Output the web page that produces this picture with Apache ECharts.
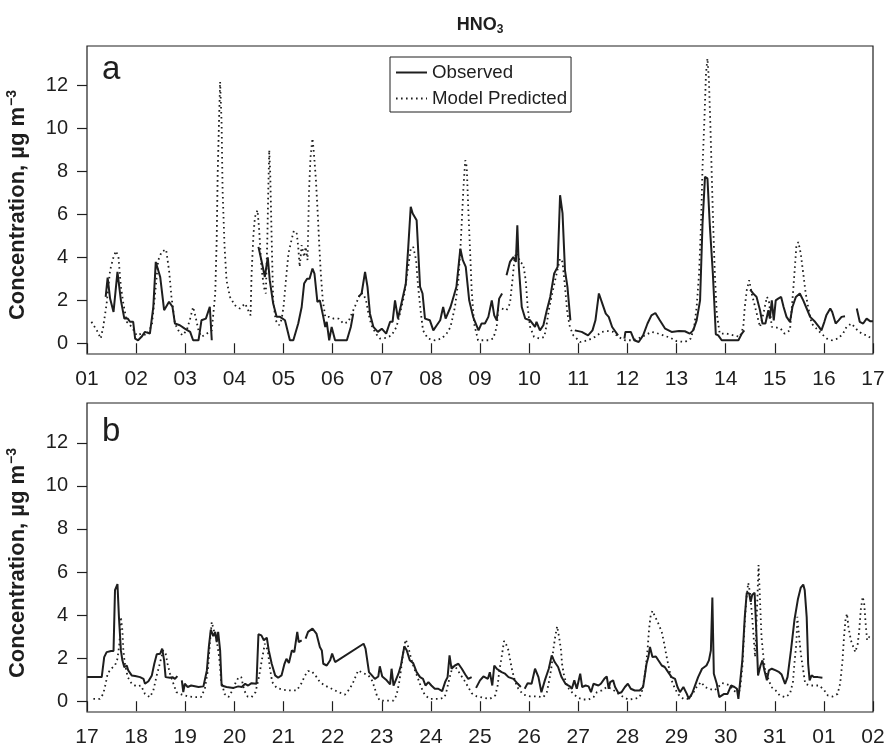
<!DOCTYPE html>
<html>
<head>
<meta charset="utf-8">
<script src="https://cdn.jsdelivr.net/npm/echarts@6/dist/echarts.min.js"></script>
<style>
  html, body { margin: 0; padding: 0; background: #fff; }
  #chart { width: 884px; height: 748px; }
</style>
</head>
<body>
<div id="chart"></div>
<script>
// Day-of-month tick labels for each panel (x values are days since the panel start)
const tickLabelsA = ['01','02','03','04','05','06','07','08','09','10','11','12','13','14','15','16','17'];
const tickLabelsB = ['17','18','19','20','21','22','23','24','25','26','27','28','29','30','31','01','02'];
const yTicks = [0, 2, 4, 6, 8, 10, 12];

// Panel a: observed HNO3 (µg m-3); [day, value], value null = missing data
const observedA = [
  [0.38,2.16],[0.42,3.06],[0.47,2.08],[0.54,1.46],[0.62,3.33],[0.69,2.0],[0.76,1.15],[0.83,1.15],[0.875,1.0],[0.94,1.0],
  [0.98,0.22],[1.04,0.14],[1.11,0.3],[1.18,0.53],[1.28,0.45],[1.35,1.7],[1.40,3.79],[1.49,3.09],[1.57,1.54],[1.67,1.93],
  [1.74,1.7],[1.79,0.92],[1.89,0.84],[1.99,0.68],[2.10,0.53],[2.16,0.14],[2.27,0.14],[2.33,1.07],[2.42,1.15],[2.50,1.7],
  [2.54,0.14],[3.0,null],
  [3.49,4.49],[3.55,3.87],[3.62,3.09],[3.68,4.0],[3.72,2.94],[3.79,1.85],[3.86,1.23],[3.93,1.23],[4.03,1.07],[4.13,0.14],
  [4.20,0.14],[4.30,0.92],[4.37,1.69],[4.42,2.78],[4.48,3.01],[4.53,3.01],[4.59,3.48],[4.63,3.25],[4.69,1.93],[4.74,2.0],
  [4.81,1.23],[4.85,0.76],[4.88,1.0],[4.93,0.14],[4.98,0.76],[5.02,0.76],[5.05,0.14],[5.29,0.14],[5.37,0.76],[5.42,1.38],
  [5.47,null],
  [5.53,2.16],[5.59,2.32],[5.66,3.33],[5.71,2.63],[5.76,1.38],[5.83,0.76],[5.92,0.53],[6.00,0.68],[6.09,0.45],[6.17,1.0],
  [6.22,1.0],[6.27,2.0],[6.33,1.15],[6.40,1.85],[6.49,2.78],[6.54,4.49],[6.59,6.36],[6.63,6.05],[6.71,5.73],[6.78,2.63],
  [6.83,2.32],[6.88,1.15],[6.98,1.07],[7.05,0.6],[7.12,0.84],[7.19,1.07],[7.25,1.69],[7.30,1.15],[7.40,1.69],[7.46,2.16],
  [7.52,2.63],[7.60,4.41],[7.65,3.87],[7.71,3.56],[7.78,2.0],[7.86,1.23],[7.90,1.0],[7.97,0.6],[8.03,0.92],[8.10,0.92],
  [8.17,1.23],[8.24,2.0],[8.29,1.3],[8.34,1.07],[8.39,2.08],[8.45,2.32],[8.50,null],
  [8.54,3.17],[8.61,3.79],[8.68,4.02],[8.73,3.79],[8.76,5.5],[8.79,3.56],[8.85,1.69],[8.92,1.15],[9.02,1.07],[9.12,0.76],
  [9.15,1.0],[9.22,0.6],[9.29,0.84],[9.36,1.54],[9.43,2.16],[9.51,3.25],[9.58,3.56],[9.63,6.9],[9.68,6.05],[9.73,3.4],
  [9.78,2.63],[9.84,1.07],[9.88,null],
  [9.93,0.6],[10.07,0.53],[10.20,0.37],[10.29,0.6],[10.35,1.07],[10.42,2.32],[10.49,1.85],[10.56,1.38],[10.62,1.23],
  [10.69,0.76],[10.81,0.37],[10.88,null],
  [10.94,0.22],[10.96,0.53],[11.07,0.53],[11.14,0.14],[11.23,0.06],[11.32,0.37],[11.41,0.92],[11.49,1.3],[11.57,1.41],
  [11.66,1.07],[11.77,0.68],[11.90,0.53],[12.05,0.57],[12.17,0.56],[12.27,0.45],[12.34,0.6],[12.41,1.07],[12.48,2.0],
  [12.53,5.58],[12.58,7.75],[12.63,7.68],[12.68,5.42],[12.74,3.25],[12.77,1.85],[12.80,0.42],[12.85,0.37],[12.92,0.14],
  [13.26,0.14],[13.33,0.45],[13.38,0.6],[13.44,null],
  [13.50,2.5],[13.56,2.32],[13.63,2.16],[13.70,1.54],[13.75,0.92],[13.81,0.92],[13.87,1.54],[13.90,1.15],[13.94,2.0],
  [13.98,1.07],[14.02,2.0],[14.07,2.08],[14.13,2.16],[14.18,1.69],[14.24,1.23],[14.31,1.0],[14.36,1.69],[14.43,2.16],
  [14.51,2.32],[14.58,2.0],[14.65,1.62],[14.72,1.23],[14.82,1.0],[14.90,0.76],[14.95,0.6],[15.01,1.0],[15.05,1.3],
  [15.09,1.23],[15.13,1.62],[15.17,1.46],[15.24,0.92],[15.30,1.07],[15.36,1.23],[15.43,1.26],[15.55,null],
  [15.67,1.62],[15.73,1.0],[15.80,0.92],[15.87,1.15],[15.94,1.03],[16.0,1.03]
];

// Panel a: model predicted HNO3
const modelA = [
  [0.09,1.0],[0.20,0.6],[0.28,0.22],[0.33,0.76],[0.40,1.85],[0.47,3.4],[0.54,4.02],[0.59,4.3],[0.64,4.02],[0.69,2.63],
  [0.74,1.85],[0.81,1.0],[0.91,0.76],[1.01,0.37],[1.11,0.45],[1.21,0.37],[1.32,0.84],[1.38,2.16],[1.45,3.87],[1.52,4.26],
  [1.61,4.37],[1.67,3.4],[1.72,2.16],[1.79,0.92],[1.86,0.6],[1.94,0.37],[2.03,0.6],[2.10,1.15],[2.16,1.69],[2.21,1.23],
  [2.27,0.6],[2.33,0.3],[2.44,0.45],[2.54,0.6],[2.61,2.32],[2.64,4.8],[2.66,7.9],[2.69,10.55],[2.71,12.18],[2.74,10.24],
  [2.76,7.13],[2.80,4.49],[2.84,2.94],[2.91,2.16],[3.01,1.77],[3.11,1.62],[3.22,1.85],[3.28,1.54],[3.33,1.3],[3.35,3.25],
  [3.39,5.11],[3.42,5.89],[3.47,6.2],[3.50,5.42],[3.55,3.56],[3.60,2.63],[3.64,2.32],[3.67,4.8],[3.69,7.13],[3.71,9.0],
  [3.73,7.9],[3.76,4.8],[3.79,2.0],[3.84,1.07],[3.91,0.84],[3.96,1.1],[4.0,1.69],[4.05,2.94],[4.10,4.18],[4.17,4.88],
  [4.21,5.24],[4.27,5.11],[4.30,4.49],[4.33,3.56],[4.37,4.57],[4.42,4.02],[4.45,4.49],[4.49,3.87],[4.52,7.13],[4.55,8.69],
  [4.59,9.54],[4.62,8.84],[4.66,7.6],[4.70,5.89],[4.73,4.49],[4.76,3.25],[4.80,2.0],[4.85,1.23],[4.93,1.23],[5.02,1.15],
  [5.12,1.15],[5.22,0.92],[5.32,1.0],[5.39,1.38],[5.48,1.85],[5.56,2.32],[5.62,2.32],[5.68,2.0],[5.73,1.38],[5.79,0.84],
  [5.88,0.45],[5.96,0.22],[6.09,0.25],[6.20,0.37],[6.30,0.76],[6.37,1.38],[6.45,2.16],[6.52,3.25],[6.59,4.41],[6.64,4.49],
  [6.70,3.87],[6.74,2.63],[6.79,1.54],[6.84,0.6],[6.94,0.22],[7.08,0.14],[7.22,0.22],[7.32,0.45],[7.40,0.76],[7.49,1.69],
  [7.56,2.94],[7.61,4.8],[7.66,7.13],[7.70,8.53],[7.73,8.22],[7.76,6.36],[7.80,4.18],[7.83,2.47],[7.88,0.92],[7.96,0.14],
  [8.03,0.14],[8.17,0.14],[8.27,0.22],[8.34,0.76],[8.37,1.54],[8.44,1.62],[8.54,1.54],[8.61,1.85],[8.66,2.94],[8.70,3.87],
  [8.75,4.34],[8.81,3.79],[8.88,3.68],[8.93,2.94],[8.97,1.69],[9.02,0.76],[9.10,0.3],[9.22,0.22],[9.31,0.3],[9.36,0.92],
  [9.40,1.54],[9.47,2.32],[9.56,3.25],[9.63,3.95],[9.68,3.79],[9.73,2.63],[9.78,1.38],[9.83,0.76],[9.90,0.37],[10.04,0.06],
  [10.20,0.14],[10.34,0.3],[10.48,0.53],[10.61,0.57],[10.71,0.53],[10.81,0.3],[10.95,0.14],[11.09,0.14],[11.22,0.22],
  [11.36,0.37],[11.49,0.53],[11.59,0.48],[11.73,0.37],[11.87,0.26],[12.00,0.1],[12.17,0.06],[12.29,0.22],[12.36,0.76],
  [12.41,1.69],[12.46,3.25],[12.50,5.58],[12.53,8.22],[12.57,10.55],[12.60,12.57],[12.63,13.27],[12.66,12.26],[12.69,10.09],
  [12.72,7.6],[12.75,5.27],[12.78,3.25],[12.82,1.38],[12.88,0.45],[13.02,0.45],[13.16,0.37],[13.29,0.3],[13.36,0.76],
  [13.39,1.69],[13.43,2.47],[13.48,2.94],[13.53,2.32],[13.60,1.69],[13.70,0.76],[13.77,1.38],[13.84,2.16],[13.88,2.0],
  [13.94,0.76],[14.00,0.76],[14.12,0.68],[14.20,0.45],[14.31,0.6],[14.37,2.32],[14.41,3.56],[14.44,4.49],[14.48,4.72],
  [14.53,4.18],[14.58,3.25],[14.63,2.32],[14.68,1.69],[14.75,0.92],[14.85,0.68],[14.95,0.45],[15.06,0.22],[15.16,0.14],
  [15.29,0.22],[15.39,0.45],[15.46,0.76],[15.56,0.92],[15.67,0.64],[15.77,0.45],[15.87,0.37],[15.97,0.22]
];

// Panel b: observed HNO3
const observedB = [
  [0,1.12],[0.30,1.12],[0.35,2.05],[0.40,2.28],[0.49,2.33],[0.54,2.33],[0.57,5.16],[0.62,5.44],[0.65,3.92],[0.69,2.36],
  [0.72,1.90],[0.76,1.58],[0.81,1.66],[0.84,1.43],[0.91,1.2],[0.98,1.17],[1.08,1.12],[1.15,1.04],[1.18,0.81],[1.25,0.93],
  [1.32,1.2],[1.37,1.74],[1.42,2.18],[1.49,2.21],[1.53,2.44],[1.57,1.90],[1.60,1.12],[1.69,1.09],[1.74,1.12],[1.79,1.04],
  [1.84,1.17],[1.88,null],
  [1.93,0.97],[1.96,0.42],[1.99,0.81],[2.05,0.66],[2.12,0.73],[2.27,0.66],[2.37,0.69],[2.44,1.43],[2.48,2.52],[2.52,3.33],
  [2.57,3.02],[2.61,3.22],[2.64,2.75],[2.67,3.22],[2.71,2.36],[2.74,0.73],[2.84,0.66],[2.98,0.62],[3.08,0.69],[3.15,0.66],
  [3.22,0.81],[3.28,0.73],[3.35,0.84],[3.45,0.81],[3.49,3.11],[3.55,3.06],[3.60,2.83],[3.66,2.95],[3.70,2.36],[3.76,1.74],
  [3.83,1.2],[3.89,1.09],[3.96,1.2],[4.02,1.74],[4.06,1.97],[4.11,1.77],[4.17,2.36],[4.22,2.28],[4.28,3.22],[4.31,2.75],
  [4.37,2.83],[4.41,null],
  [4.45,2.91],[4.50,3.22],[4.59,3.37],[4.67,3.14],[4.74,2.52],[4.78,2.36],[4.81,1.74],[4.88,1.66],[4.95,1.90],[4.99,2.21],
  [5.05,1.82],[5.08,1.74],[5.63,2.67],[5.67,2.44],[5.74,1.35],[5.80,1.2],[5.86,1.04],[5.93,1.15],[5.96,1.62],[6.01,1.15],
  [6.10,0.97],[6.17,0.78],[6.20,1.51],[6.24,0.73],[6.28,0.66],[6.34,1.28],[6.39,1.66],[6.46,2.55],[6.51,2.36],[6.57,1.90],
  [6.64,1.77],[6.71,1.35],[6.78,1.12],[6.84,1.04],[6.89,0.73],[6.95,0.89],[7.01,0.73],[7.08,0.58],[7.15,0.58],[7.23,0.47],
  [7.29,0.89],[7.34,1.12],[7.38,2.13],[7.42,1.51],[7.49,1.66],[7.56,1.74],[7.63,1.51],[7.70,1.24],[7.76,1.04],[7.83,1.12],
  [7.88,null],
  [7.92,0.62],[8.00,0.97],[8.07,1.15],[8.16,1.04],[8.20,1.35],[8.25,0.73],[8.29,1.66],[8.34,1.51],[8.38,1.59],[8.44,1.35],
  [8.51,1.28],[8.58,1.12],[8.68,1.04],[8.77,0.81],[8.83,0.66],[8.87,null],
  [8.91,0.58],[8.97,0.84],[9.05,0.81],[9.12,1.51],[9.19,1.12],[9.25,0.42],[9.32,0.97],[9.40,1.51],[9.46,2.13],[9.52,1.82],
  [9.59,1.59],[9.66,1.12],[9.74,0.81],[9.83,0.69],[9.87,0.58],[9.92,0.97],[9.97,0.58],[10.04,1.28],[10.08,0.66],[10.15,0.73],
  [10.21,0.69],[10.26,0.42],[10.31,0.81],[10.35,0.89],[10.41,0.73],[10.46,0.81],[10.53,1.04],[10.58,1.15],[10.62,0.58],
  [10.65,0.89],[10.71,0.97],[10.75,0.66],[10.82,0.37],[10.88,0.42],[10.95,0.66],[11.01,0.81],[11.07,0.58],[11.15,0.5],
  [11.25,0.5],[11.32,0.66],[11.36,0.66],[11.39,1.74],[11.43,2.08],[11.46,2.52],[11.51,2.05],[11.58,2.08],[11.63,1.90],
  [11.70,1.66],[11.76,1.59],[11.83,1.35],[11.90,1.12],[11.97,1.04],[12.02,0.66],[12.07,0.42],[12.14,0.66],[12.21,0.34],
  [12.25,0.11],[12.32,0.37],[12.39,0.81],[12.44,1.12],[12.52,1.51],[12.61,1.66],[12.66,1.90],[12.70,2.36],[12.73,4.82],
  [12.76,1.28],[12.82,0.81],[12.87,0.19],[12.91,0.11],[12.97,0.34],[13.04,0.34],[13.11,0.73],[13.18,0.66],[13.23,0.58],
  [13.26,0.11],[13.29,0.11],[13.34,1.90],[13.39,3.92],[13.43,5.04],[13.48,5.0],[13.51,4.62],[13.54,4.93],[13.59,5.04],
  [13.63,2.98],[13.66,1.2],[13.71,1.66],[13.75,1.90],[13.79,1.43],[13.84,0.97],[13.88,1.43],[13.94,1.51],[14.02,1.43],
  [14.09,1.35],[14.14,1.24],[14.21,0.81],[14.26,1.12],[14.33,2.36],[14.40,3.76],[14.47,4.72],[14.53,5.28],[14.58,5.42],
  [14.61,5.16],[14.65,3.92],[14.68,1.74],[14.71,0.97],[14.75,1.2],[14.80,1.12],[14.88,1.12],[14.97,1.09]
];

// Panel b: model predicted HNO3
const modelB = [
  [0.13,0.11],[0.26,0.11],[0.33,0.34],[0.38,0.81],[0.42,1.28],[0.49,1.51],[0.57,1.66],[0.62,1.97],[0.66,2.67],[0.69,3.92],
  [0.72,3.30],[0.74,2.36],[0.77,1.74],[0.83,1.12],[0.91,0.81],[1.01,0.69],[1.10,0.73],[1.18,0.34],[1.28,0.19],[1.35,0.5],
  [1.42,1.2],[1.49,1.82],[1.55,2.36],[1.60,2.21],[1.64,1.74],[1.69,1.28],[1.76,0.81],[1.82,0.42],[1.93,0.31],[2.06,0.22],
  [2.20,0.19],[2.32,0.19],[2.40,0.58],[2.46,1.43],[2.50,2.67],[2.54,3.68],[2.59,3.22],[2.64,2.83],[2.69,2.05],[2.73,0.97],
  [2.80,0.34],[2.88,0.19],[2.96,0.5],[3.03,0.89],[3.09,1.12],[3.14,1.12],[3.20,0.5],[3.27,0.22],[3.35,0.19],[3.43,0.42],
  [3.50,1.12],[3.57,2.05],[3.62,2.67],[3.68,2.36],[3.72,1.59],[3.77,0.89],[3.86,0.62],[4.00,0.53],[4.13,0.5],[4.27,0.5],
  [4.36,0.81],[4.44,1.2],[4.50,1.4],[4.57,1.4],[4.65,1.2],[4.74,0.89],[4.84,0.73],[4.98,0.58],[5.12,0.42],[5.25,0.31],
  [5.35,0.58],[5.42,0.89],[5.52,1.43],[5.62,1.31],[5.73,1.2],[5.80,0.97],[5.85,0.66],[5.90,0.27],[5.96,0.03],[6.10,0.03],
  [6.24,0.03],[6.30,0.27],[6.35,0.81],[6.39,1.43],[6.42,1.97],[6.46,2.6],[6.49,2.86],[6.54,2.52],[6.59,2.05],[6.64,1.66],
  [6.69,1.35],[6.74,1.04],[6.80,0.66],[6.88,0.27],[6.98,0.11],[7.08,0.11],[7.19,0.11],[7.28,0.19],[7.32,0.5],[7.36,0.89],
  [7.41,1.35],[7.46,1.66],[7.53,1.51],[7.59,1.28],[7.68,0.97],[7.76,0.66],[7.83,0.37],[7.93,0.23],[8.07,0.16],[8.20,0.11],
  [8.31,0.27],[8.36,0.73],[8.39,1.35],[8.44,2.05],[8.49,2.8],[8.54,2.6],[8.58,2.36],[8.61,1.97],[8.64,1.59],[8.68,1.2],
  [8.72,0.89],[8.78,0.58],[8.88,0.31],[9.02,0.23],[9.15,0.23],[9.29,0.19],[9.36,0.42],[9.41,0.97],[9.46,1.66],[9.49,2.36],
  [9.53,2.98],[9.57,3.48],[9.61,2.98],[9.65,2.36],[9.67,1.74],[9.71,1.2],[9.76,0.81],[9.81,0.58],[9.90,0.34],[10.00,0.16],
  [10.10,0.08],[10.21,0.08],[10.31,0.19],[10.38,0.42],[10.48,0.5],[10.58,0.66],[10.68,0.58],[10.82,0.34],[10.92,0.19],
  [11.02,0.08],[11.15,0.11],[11.25,0.19],[11.30,0.5],[11.36,1.28],[11.41,2.36],[11.44,3.3],[11.47,3.92],[11.51,4.2],
  [11.56,3.95],[11.63,3.61],[11.70,3.22],[11.75,2.67],[11.80,2.05],[11.85,1.51],[11.90,0.97],[11.97,0.58],[12.04,0.31],
  [12.14,0.11],[12.24,0.11],[12.32,0.31],[12.41,0.66],[12.50,0.89],[12.58,0.66],[12.66,0.58],[12.77,0.5],[12.85,0.66],
  [12.92,0.84],[13.00,0.81],[13.09,0.73],[13.16,0.5],[13.22,0.42],[13.29,0.5],[13.34,1.59],[13.38,3.3],[13.42,4.7],
  [13.46,5.5],[13.50,5.0],[13.54,3.92],[13.58,2.67],[13.60,2.05],[13.62,3.14],[13.65,5.0],[13.67,6.33],[13.70,4.7],
  [13.73,2.98],[13.77,2.05],[13.80,1.51],[13.87,1.04],[13.93,0.66],[14.02,0.5],[14.10,0.27],[14.21,0.19],[14.31,0.34],
  [14.37,0.89],[14.40,1.74],[14.44,2.67],[14.46,3.92],[14.49,3.14],[14.53,2.21],[14.58,1.43],[14.62,0.81],[14.71,0.73],
  [14.81,0.73],[14.91,0.73],[15.01,0.5],[15.08,0.27],[15.18,0.22],[15.28,0.34],[15.33,0.81],[15.38,1.9],[15.41,2.98],
  [15.44,3.76],[15.47,4.07],[15.50,3.45],[15.55,2.83],[15.60,2.52],[15.64,2.28],[15.69,2.67],[15.72,3.3],[15.75,4.23],
  [15.79,4.85],[15.82,4.54],[15.85,3.61],[15.88,2.83],[15.92,2.98],[15.95,3.0],[16.0,2.9]
];

const FONT = '"Liberation Sans", Arial, Helvetica, sans-serif';
const INK = '#1e1e1e';

// Missing values become ECharts empty points so the line breaks there
const toSeriesData = pts => pts.map(([d, v]) => [d, v === null ? '-' : v]);

const observedStyle = { color: INK, width: 2 };
const modelStyle = { color: INK, width: 1.8, type: [1.6, 3.4] };

function makeXAxis(gridIndex, labels) {
  return {
    type: 'value', gridIndex, min: 0, max: 16, interval: 1,
    axisLine: { show: false },
    axisTick: { show: true, length: 10, lineStyle: { color: INK, width: 1.2 } },
    axisLabel: {
      formatter: v => labels[Math.round(v)],
      fontSize: 21, color: INK, fontFamily: FONT, margin: 15
    },
    splitLine: { show: false }
  };
}

function makeYAxis(gridIndex) {
  return {
    type: 'value', gridIndex, min: -0.5, max: 13.85,
    axisLine: { show: false },
    axisTick: { show: true, length: 10, customValues: yTicks, lineStyle: { color: INK, width: 1.2 } },
    axisLabel: { customValues: yTicks, fontSize: 20, color: INK, fontFamily: FONT, margin: 19 },
    splitLine: { show: false }
  };
}

// Rotated y-axis title with a superscript exponent
function yTitle(cy) {
  return {
    type: 'text', x: 18, y: cy, rotation: Math.PI / 2,
    style: {
      text: '{t|Concentration, µg m}{s|−3}', align: 'center', verticalAlign: 'middle',
      rich: {
        t: { fontSize: 22, fontWeight: 'bold', fontFamily: FONT, fill: INK, lineHeight: 26 },
        s: { fontSize: 14, fontWeight: 'bold', fontFamily: FONT, fill: INK, verticalAlign: 'top', lineHeight: 26, padding: [0, 0, 10, 1] }
      }
    }
  };
}

const chart = echarts.init(document.getElementById('chart'), null, { renderer: 'canvas' });

const gridBase = { left: 87, width: 786, show: true, borderColor: INK, borderWidth: 1.2, backgroundColor: 'transparent', containLabel: false, outerBoundsMode: 'none' };

chart.setOption({
  backgroundColor: '#fff',
  animation: false,
  grid: [
    Object.assign({ top: 46, height: 308 }, gridBase),
    Object.assign({ top: 403, height: 309 }, gridBase)
  ],
  xAxis: [makeXAxis(0, tickLabelsA), makeXAxis(1, tickLabelsB)],
  yAxis: [makeYAxis(0), makeYAxis(1)],
  legend: {
    data: ['Observed', 'Model Predicted'],
    orient: 'vertical', left: 390, top: 57,
    itemWidth: 31, itemHeight: 14, itemGap: 7,
    padding: [6, 4, 4, 5],
    borderColor: INK, borderWidth: 1, borderRadius: 0,
    backgroundColor: '#fff',
    itemStyle: { opacity: 0 },
    textStyle: { fontSize: 18.7, color: INK, fontFamily: FONT },
    selectedMode: false
  },
  graphic: [
    {
      type: 'text', x: 480, y: 25,
      style: {
        text: '{m|HNO}{s|3}', align: 'center', verticalAlign: 'middle',
        rich: {
          m: { fontSize: 18, fontWeight: 'bold', fontFamily: FONT, fill: INK, lineHeight: 22 },
          s: { fontSize: 12, fontWeight: 'bold', fontFamily: FONT, fill: INK, verticalAlign: 'bottom', lineHeight: 22, padding: [6, 0, 0, 0] }
        }
      }
    },
    yTitle(205),
    yTitle(563),
    { type: 'text', x: 102, y: 70, style: { text: 'a', fontSize: 33, fontFamily: FONT, fill: INK, verticalAlign: 'middle' } },
    { type: 'text', x: 102, y: 432, style: { text: 'b', fontSize: 33, fontFamily: FONT, fill: INK, verticalAlign: 'middle' } }
  ],
  series: [
    { name: 'Observed', type: 'line', xAxisIndex: 0, yAxisIndex: 0, symbol: 'none', data: toSeriesData(observedA), lineStyle: observedStyle, itemStyle: { color: INK }, z: 3 },
    { name: 'Model Predicted', type: 'line', xAxisIndex: 0, yAxisIndex: 0, symbol: 'none', data: toSeriesData(modelA), lineStyle: modelStyle, itemStyle: { color: INK }, z: 2 },
    { name: 'Observed', type: 'line', xAxisIndex: 1, yAxisIndex: 1, symbol: 'none', data: toSeriesData(observedB), lineStyle: observedStyle, itemStyle: { color: INK }, z: 3 },
    { name: 'Model Predicted', type: 'line', xAxisIndex: 1, yAxisIndex: 1, symbol: 'none', data: toSeriesData(modelB), lineStyle: modelStyle, itemStyle: { color: INK }, z: 2 }
  ]
});
</script>
</body>
</html>
